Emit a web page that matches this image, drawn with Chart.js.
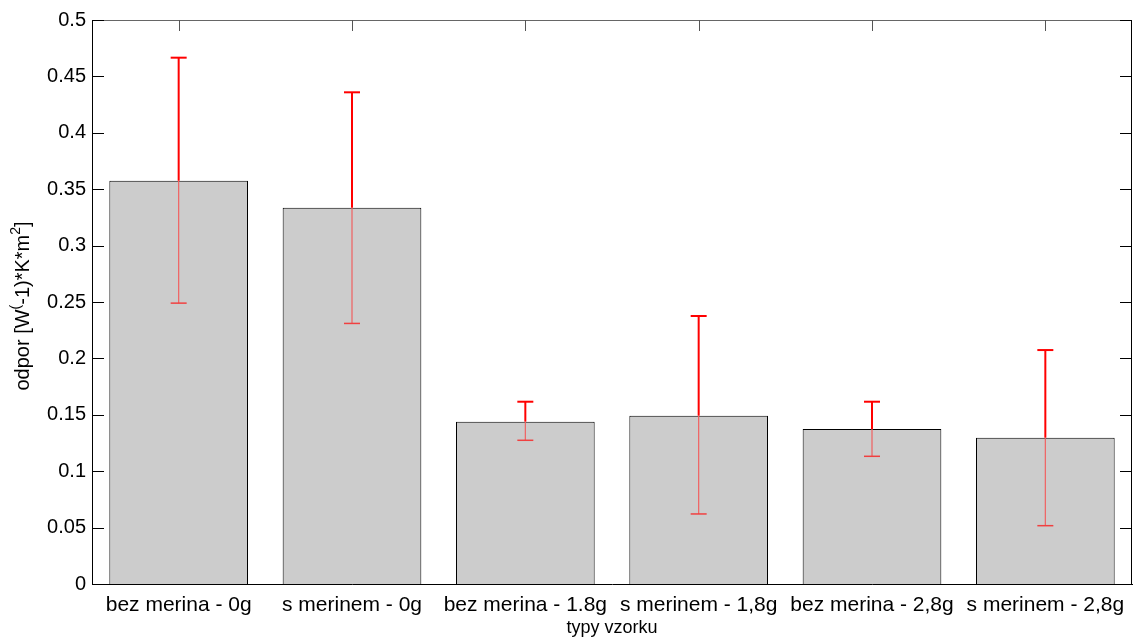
<!DOCTYPE html>
<html>
<head>
<meta charset="utf-8">
<script src="https://cdn.jsdelivr.net/npm/chart.js@4.4.0/dist/chart.umd.min.js"></script>
<style>
  html, body { margin: 0; padding: 0; background: #fff; }
  #wrap { width: 1134px; height: 639px; }
</style>
</head>
<body>
<div id="wrap"><canvas id="chart" width="1134" height="639"></canvas></div>
<script>
// Data
const categories = ['bez merina - 0g', 's merinem - 0g', 'bez merina - 1.8g', 's merinem - 1,8g', 'bez merina - 2,8g', 's merinem - 2,8g'];
const means = [0.3575, 0.3336, 0.1439, 0.1492, 0.1374, 0.1297];
const errUpper = [0.4666, 0.4359, 0.1616, 0.2376, 0.1616, 0.2074];
const errLower = [0.2490, 0.2310, 0.1274, 0.0621, 0.1132, 0.0517];
const yTicks = [0, 0.05, 0.1, 0.15, 0.2, 0.25, 0.3, 0.35, 0.4, 0.45, 0.5];

const FONT = 'Liberation Sans, Arial, sans-serif';

// Draws the red error bars using the chart's own scales
const errorBars = {
    id: 'errorBars',
    afterDatasetsDraw(chart) {
        const ctx = chart.ctx;
        const y = chart.scales.y;
        const meta = chart.getDatasetMeta(0);
        ctx.save();
        meta.data.forEach((bar, i) => {
            const x = bar.x;
            const top = y.getPixelForValue(errUpper[i]);
            const bot = y.getPixelForValue(errLower[i]);
            const barTop = bar.y;
            // part inside the bar, lighter
            ctx.strokeStyle = '#f06060';
            ctx.lineWidth = 1.2;
            ctx.beginPath();
            ctx.moveTo(x, Math.max(bot, barTop));
            ctx.lineTo(x, Math.max(top, barTop));
            ctx.stroke();
            // part above the bar
            ctx.strokeStyle = '#ff0000';
            ctx.lineWidth = 2;
            if (top < barTop) {
                ctx.beginPath();
                ctx.moveTo(x, Math.min(bot, barTop));
                ctx.lineTo(x, top);
                ctx.stroke();
            }
            // caps
            [top, bot].forEach(p => {
                const inside = p > barTop;
                ctx.strokeStyle = inside ? '#f04040' : '#ff0000';
                ctx.lineWidth = inside ? 1.5 : 2;
                ctx.beginPath();
                ctx.moveTo(x - 8, p);
                ctx.lineTo(x + 8, p);
                ctx.stroke();
            });
        });
        ctx.restore();
    }
};

// Box frame, inward ticks and axis titles (MATLAB style)
const frame = {
    id: 'frame',
    afterDraw(chart) {
        const ctx = chart.ctx;
        const a = chart.chartArea;
        const y = chart.scales.y;
        const meta = chart.getDatasetMeta(0);
        ctx.save();
        ctx.lineWidth = 1;
        // top border (gray) and right border
        ctx.strokeStyle = '#666';
        ctx.beginPath();
        ctx.moveTo(a.left, a.top + 0.5);
        ctx.lineTo(a.right, a.top + 0.5);
        ctx.stroke();
        ctx.strokeStyle = '#000';
        ctx.beginPath();
        ctx.moveTo(a.right - 0.5, a.top);
        ctx.lineTo(a.right - 0.5, a.bottom);
        ctx.stroke();
        // y ticks on both sides
        yTicks.forEach(v => {
            const p = Math.round(y.getPixelForValue(v)) + 0.5;
            ctx.beginPath();
            ctx.moveTo(a.left, p);
            ctx.lineTo(a.left + 12, p);
            ctx.moveTo(a.right, p);
            ctx.lineTo(a.right - 12, p);
            ctx.stroke();
        });
        // x ticks on top
        ctx.strokeStyle = '#555';
        meta.data.forEach(bar => {
            const x = Math.round(bar.x) + 0.5;
            ctx.beginPath();
            ctx.moveTo(x, a.top);
            ctx.lineTo(x, a.top + 11);
            ctx.stroke();
        });
        // x title
        ctx.fillStyle = '#000';
        ctx.font = '18px ' + FONT;
        ctx.textAlign = 'center';
        ctx.textBaseline = 'middle';
        ctx.fillText('typy vzorku', (a.left + a.right) / 2, 628);
        // y title with superscripts
        ctx.translate(23, 306);
        ctx.rotate(-Math.PI / 2);
        const parts = [
            ['odpor [W', 0], ['(', 1], ['-1)*K*m', 0], ['2', 1], [']', 0]
        ];
        const big = '20px ' + FONT, small = '14px ' + FONT;
        let total = 0;
        parts.forEach(([t, s]) => { ctx.font = s ? small : big; total += ctx.measureText(t).width; });
        let cx = -total / 2;
        ctx.textAlign = 'left';
        ctx.textBaseline = 'alphabetic';
        parts.forEach(([t, s]) => {
            ctx.font = s ? small : big;
            ctx.fillText(t, cx, s ? -3 : 6);
            cx += ctx.measureText(t).width;
        });
        ctx.restore();
    }
};

new Chart(document.getElementById('chart'), {
    type: 'bar',
    data: {
        labels: categories,
        datasets: [{
            data: means,
            backgroundColor: '#cccccc',
            borderColor: '#000000',
            borderWidth: 1,
            barPercentage: 0.8,
            categoryPercentage: 1.0
        }]
    },
    options: {
        responsive: false,
        animation: false,
        layout: { padding: { left: 0, top: 20, right: 2, bottom: 0 } },
        plugins: {
            legend: { display: false },
            tooltip: { enabled: false }
        },
        scales: {
            x: {
                grid: { display: false, drawTicks: false },
                border: { display: true, color: '#000', width: 1 },
                ticks: {
                    color: '#000',
                    font: { family: FONT, size: 21 },
                    padding: 9,
                    maxRotation: 0,
                    autoSkip: false
                },
                afterFit: s => { s.height = 55; }
            },
            y: {
                min: 0,
                max: 0.5,
                afterBuildTicks: s => { s.ticks = yTicks.map(v => ({ value: v })); },
                grid: { display: false, drawTicks: false },
                border: { display: true, color: '#000', width: 1 },
                ticks: {
                    color: '#000',
                    font: { family: FONT, size: 20 },
                    padding: 6,
                    callback: v => String(+v.toFixed(2))
                },
                afterFit: s => { s.width = 92; }
            }
        }
    },
    plugins: [errorBars, frame]
});
</script>
</body>
</html>
